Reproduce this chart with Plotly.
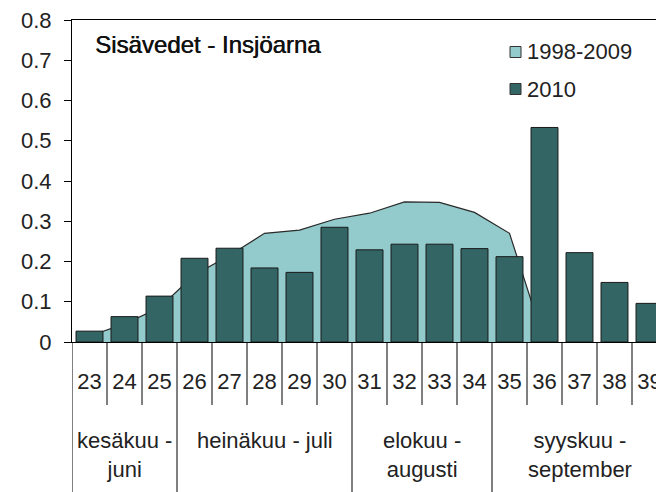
import plotly.graph_objects as go

weeks = [23, 24, 25, 26, 27, 28, 29, 30, 31, 32, 33, 34, 35, 36, 37, 38, 39]
week_labels = [str(w) for w in weeks]
values_2010 = [0.027, 0.063, 0.114, 0.208, 0.233, 0.184, 0.173, 0.285, 0.229,
               0.243, 0.243, 0.232, 0.212, 0.533, 0.222, 0.148, 0.096]
area_weeks = [23, 24, 25, 26, 27, 28, 29, 30, 31, 32, 33, 34, 35, 36]
values_1998_2009 = [0.015, 0.045, 0.085, 0.167, 0.215, 0.270, 0.278, 0.305,
                    0.320, 0.348, 0.347, 0.322, 0.270, 0.0]
months = ["kesäkuu -<br>juni", "heinäkuu - juli", "elokuu -<br>augusti", "syyskuu -<br>september"]
month_weeks = [(23, 25), (26, 30), (31, 34), (35, 39)]
title_text = "Sisävedet - Insjöarna"
legend_names = ["1998-2009", "2010"]

DARK = "#326564"
LIGHT = "#93CACB"
FONT = "Liberation Sans, Arial, sans-serif"
TXT = "#222222"
XR = [22.5, 22.5 + 584 / 35]

fig = go.Figure()
# area on base axes (drawn below), bars on overlaying axes (drawn above)
fig.add_trace(go.Scatter(x=area_weeks, y=values_1998_2009, mode="lines",
                         fill="tozeroy", fillcolor=LIGHT,
                         line=dict(color="#2a2a2a", width=1.2),
                         name=legend_names[0], showlegend=False,
                         xaxis="x", yaxis="y"))
fig.add_trace(go.Bar(x=weeks, y=values_2010, width=0.77,
                     marker=dict(color=DARK, line=dict(color="#1a1a1a", width=1)),
                     name=legend_names[1], showlegend=False,
                     xaxis="x2", yaxis="y2"))

H = 322.0  # plot height in px
def py(px):
    return (342 - px) / H

shapes = []
month_bounds = set(m[0] - 0.5 for m in month_weeks)
for w in weeks:
    b = w - 0.5
    y1 = py(492) if b in month_bounds else py(405)
    shapes.append(dict(type="line", xref="x", yref="paper", x0=b, x1=b,
                       y0=0, y1=y1, line=dict(color="black", width=1)))

annotations = []
for lab, (a, b) in zip(months, month_weeks):
    annotations.append(dict(x=(a + b) / 2, xref="x", y=py(426), yref="paper",
                            text=lab, showarrow=False, yanchor="top",
                            font=dict(family=FONT, size=22, color=TXT)))

annotations.append(dict(x=(93 - 72) / 584, xref="paper", xanchor="left", y=py(45), yref="paper",
                        yanchor="middle", text=title_text, showarrow=False,
                        font=dict(family=FONT, size=24, color="#111111",
                                  shadow="0.6px 0px 0px #111111")))

# legend
leg_y = [52, 89]
leg_cols = [LIGHT, DARK]
for name, yy, col in zip(legend_names, leg_y, leg_cols):
    shapes.append(dict(type="rect", xref="paper", yref="paper",
                       x0=(510 - 72) / 584, x1=(521 - 72) / 584,
                       y0=py(yy + 5.5), y1=py(yy - 5.5),
                       fillcolor=col, line=dict(color="#333333", width=1)))
    annotations.append(dict(x=(525 - 72) / 584, xref="paper", xanchor="left",
                            y=py(yy), yref="paper", yanchor="middle",
                            text=name, showarrow=False,
                            font=dict(family=FONT, size=22, color=TXT)))

fig.update_layout(
    width=656, height=492,
    margin=dict(l=72, r=0, t=20, b=150),
    paper_bgcolor="white", plot_bgcolor="white",
    shapes=shapes, annotations=annotations,
    xaxis=dict(range=XR, tickmode="array", tickvals=weeks,
               ticktext=week_labels, ticks="", showgrid=False, zeroline=False,
               showline=True, linecolor="black", linewidth=1, mirror=True,
               ticklabelstandoff=20, automargin=False, ticklabeloverflow="allow",
               tickfont=dict(family=FONT, size=22, color=TXT)),
    yaxis=dict(range=[0, 0.8], dtick=0.1, ticks="outside", ticklen=7,
               tickcolor="black", showgrid=False, zeroline=False,
               showline=True, linecolor="black", linewidth=1,
               ticklabelstandoff=8, automargin=False,
               tickfont=dict(family=FONT, size=22, color=TXT)),
    xaxis2=dict(range=XR, overlaying="x", visible=False, matches="x"),
    yaxis2=dict(range=[0, 0.8], overlaying="y", visible=False, matches="y"),
)

fig.write_html("out.html", config={"displayModeBar": False},
               post_script="document.body.style.margin='0';document.body.style.overflow='hidden';")
